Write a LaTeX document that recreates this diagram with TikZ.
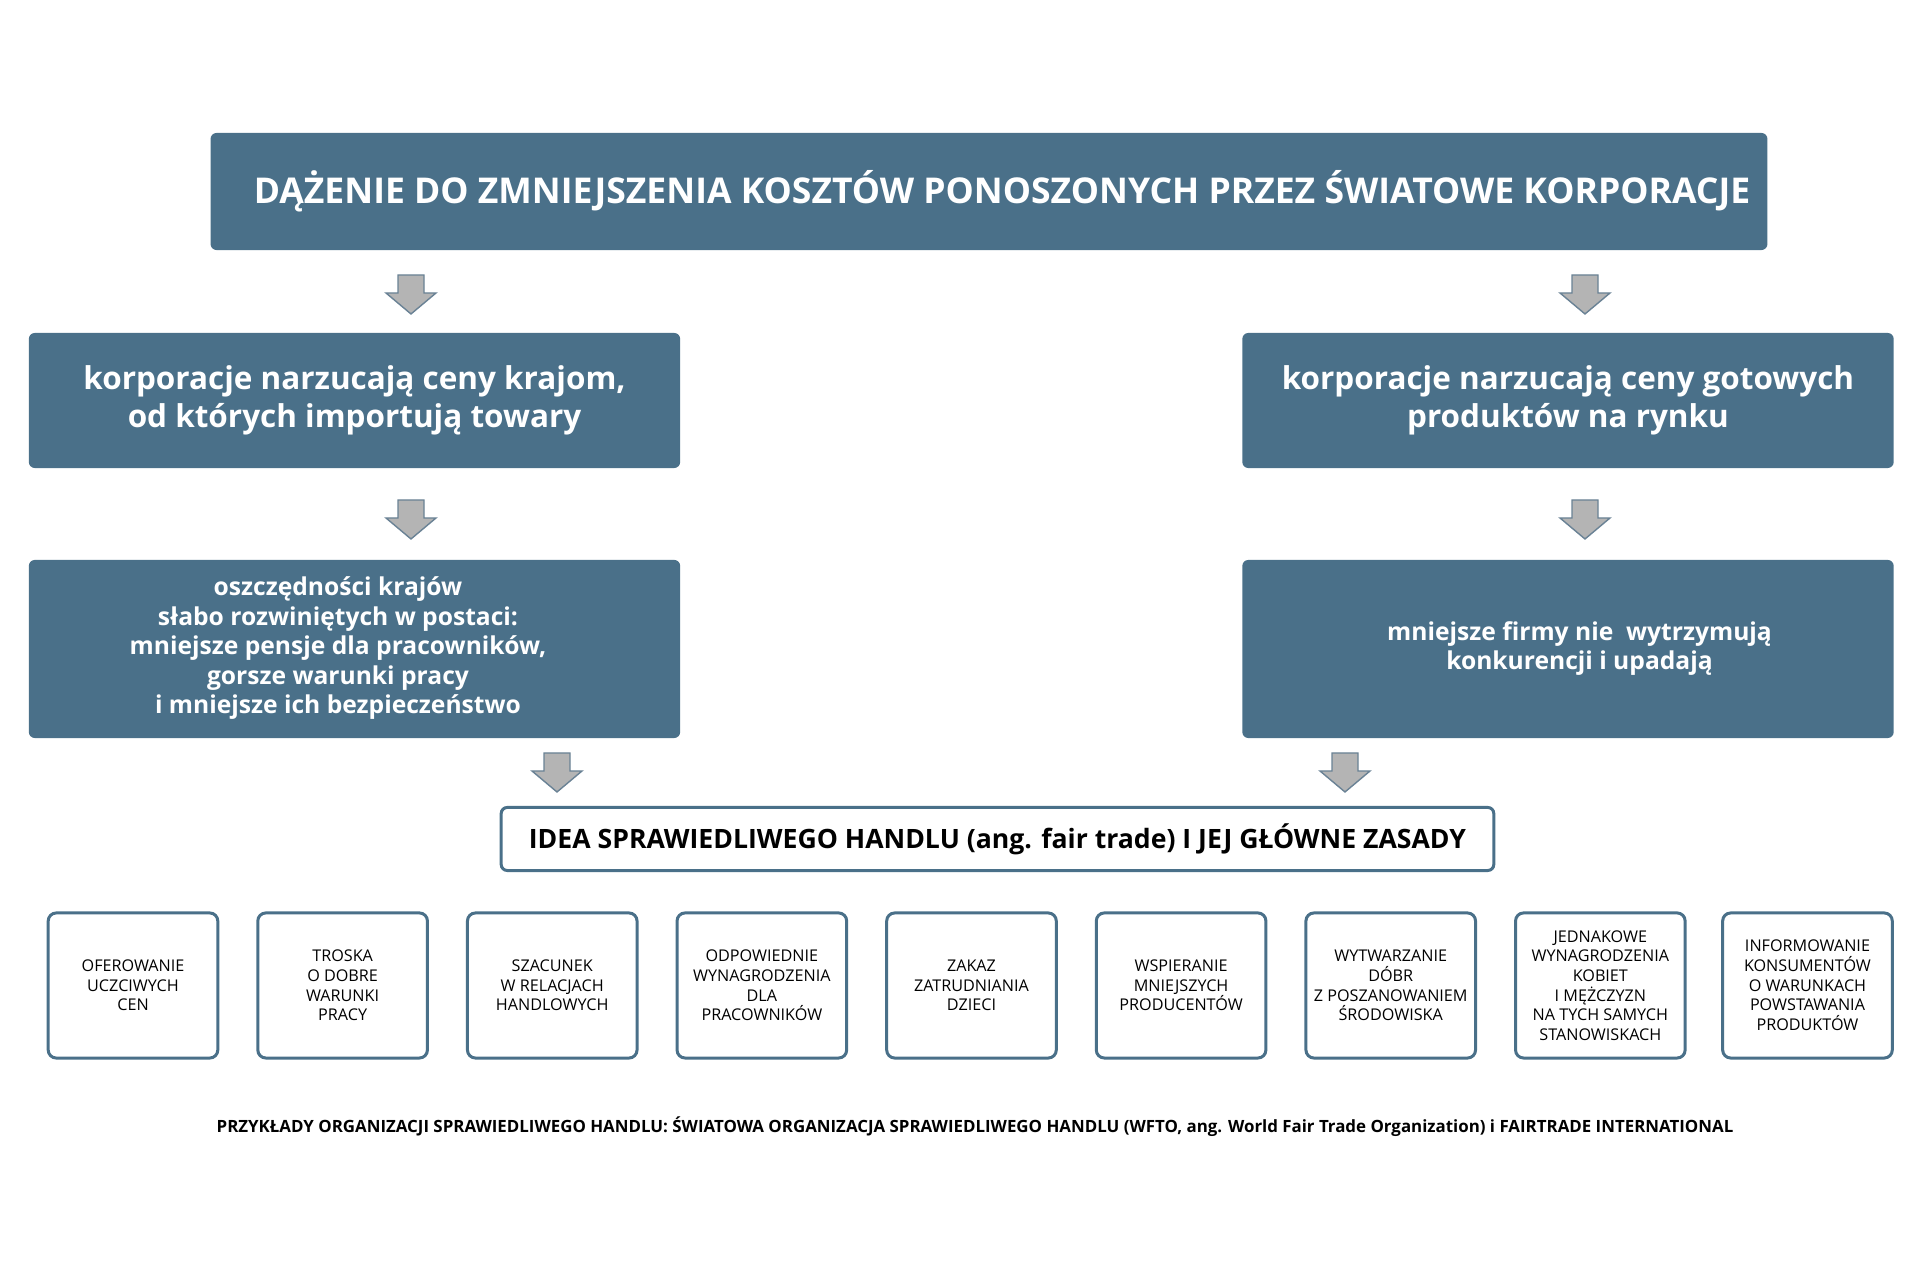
\documentclass[tikz,border=0pt]{standalone}
\usepackage{fontspec}
\setmainfont{Open Sans}
\usetikzlibrary{positioning}
\definecolor{boxblue}{HTML}{4A7089}
\definecolor{arrowgray}{HTML}{B4B4B4}
\definecolor{arrowline}{HTML}{6A8295}

\begin{document}
\begin{tikzpicture}[
        x=0.01cm, y=-0.01cm,
        mainbox/.style={rectangle, rounded corners=0.06cm, fill=boxblue, text=white, align=center, inner sep=0pt},
        rulebox/.style={rectangle, rounded corners=0.08cm, draw=boxblue, line width=0.03cm, fill=white, minimum width=1.695cm, minimum height=1.45cm, align=center, inner sep=0pt, font=\fontsize{4.6}{5.6}\selectfont},
        pics/downarrow/.style={code={
            \draw[draw=arrowline, fill=arrowgray, line width=0.4pt] (-13,-19.5) -- (13,-19.5) -- (13,-1.5) -- (25,-1.5) -- (0,19.5) -- (-25,-1.5) -- (-13,-1.5) -- cycle;
        }},
        node distance=0.37cm
    ]

    \useasboundingbox (0,0) rectangle (1920,1280);

    \node[mainbox, minimum width=15.56cm, minimum height=1.17cm, font=\bfseries\fontsize{10.1}{12}\selectfont] (goal) at (989,191.5) {\hspace*{0.26cm}DĄŻENIE DO ZMNIEJSZENIA KOSZTÓW PONOSZONYCH PRZEZ ŚWIATOWE KORPORACJE};

    \node[mainbox, minimum width=6.51cm, minimum height=1.35cm, font=\bfseries\fontsize{8.95}{10.8}\selectfont] (prices) at (354.5,400.5) {korporacje narzucają ceny krajom,\\od których importują towary};
    \node[mainbox, minimum width=6.51cm, minimum height=1.35cm, font=\bfseries\fontsize{8.95}{10.8}\selectfont] (market) at (1568,400.5) {korporacje narzucają ceny gotowych\\produktów na rynku};

    \node[mainbox, minimum width=6.51cm, minimum height=1.78cm, font=\bfseries\fontsize{7.0}{8.4}\selectfont] (savings) at (354.5,649) {\begin{tabular}{@{}c@{}}oszczędności krajów\\słabo rozwiniętych w postaci:\\mniejsze pensje dla pracowników,\\gorsze warunki pracy\\i mniejsze ich bezpieczeństwo\end{tabular}\hspace*{0.33cm}};
    \node[mainbox, minimum width=6.51cm, minimum height=1.78cm, font=\bfseries\fontsize{7.0}{8.4}\selectfont] (firms) at (1568,649) {\hspace*{0.23cm}\begin{tabular}{@{}c@{}}mniejsze firmy nie\ \ wytrzymują\\konkurencji i upadają\end{tabular}};

    \pic (a1) at (411,294.5) {downarrow};
    \pic (a2) at (1585,294.5) {downarrow};
    \pic (a3) at (411,519.5) {downarrow};
    \pic (a4) at (1585,519.5) {downarrow};
    \pic (a5) at (557,772.5) {downarrow};
    \pic (a6) at (1345,772.5) {downarrow};

    \node[rectangle, rounded corners=0.06cm, draw=boxblue, line width=0.03cm, minimum width=9.92cm, minimum height=0.63cm, inner sep=0pt, font=\bfseries\fontsize{7.57}{9}\selectfont] (idea) at (997.5,839) {IDEA SPRAWIEDLIWEGO HANDLU (ang. fair trade) I JEJ GŁÓWNE ZASADY};

    \node[rulebox] (r1) at (133,985.5) {OFEROWANIE\\UCZCIWYCH\\CEN};
    \node[rulebox, right=of r1] (r2) {TROSKA\\O DOBRE\\WARUNKI\\PRACY};
    \node[rulebox, right=of r2] (r3) {SZACUNEK\\W RELACJACH\\HANDLOWYCH};
    \node[rulebox, right=of r3] (r4) {ODPOWIEDNIE\\WYNAGRODZENIA\\DLA\\PRACOWNIKÓW};
    \node[rulebox, right=of r4] (r5) {ZAKAZ\\ZATRUDNIANIA\\DZIECI};
    \node[rulebox, right=of r5] (r6) {WSPIERANIE\\MNIEJSZYCH\\PRODUCENTÓW};
    \node[rulebox, right=of r6] (r7) {WYTWARZANIE\\DÓBR\\Z POSZANOWANIEM\\ŚRODOWISKA};
    \node[rulebox, right=of r7] (r8) {JEDNAKOWE\\WYNAGRODZENIA\\KOBIET\\I MĘŻCZYZN\\NA TYCH SAMYCH\\STANOWISKACH};
    \node[rulebox, right=0.345cm of r8] (r9) {INFORMOWANIE\\KONSUMENTÓW\\O WARUNKACH\\POWSTAWANIA\\PRODUKTÓW};

    \node[font=\bfseries\fontsize{4.8}{6}\selectfont, inner sep=0pt] (examples) at (975,1127) {PRZYKŁADY ORGANIZACJI SPRAWIEDLIWEGO HANDLU: ŚWIATOWA ORGANIZACJA SPRAWIEDLIWEGO HANDLU (WFTO, ang. World Fair Trade Organization) i FAIRTRADE INTERNATIONAL};

\end{tikzpicture}
\end{document}
